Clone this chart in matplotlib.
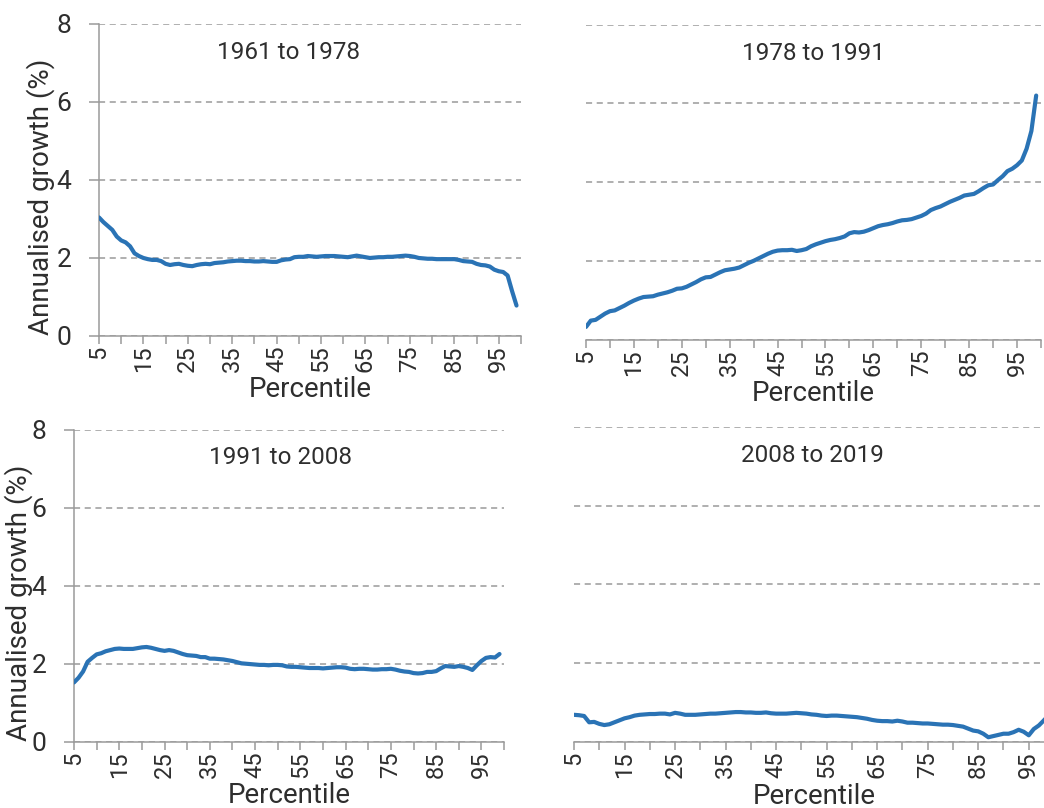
import numpy as np
import matplotlib
matplotlib.use("Agg")
import matplotlib.pyplot as plt
from matplotlib import font_manager

names = {f.name for f in font_manager.fontManager.ttflist}
fam = 'Liberation Sans Narrow' if 'Liberation Sans Narrow' in names else 'Roboto'
plt.rcParams['font.family'] = [fam, 'DejaVu Sans']

# %% data: annualised growth (%) by percentile 5..99
percentiles = np.arange(5, 100)

g_1961_1978 = [3.04, 2.92, 2.82, 2.72, 2.55, 2.45, 2.40, 2.30, 2.12, 2.05,
               2.00, 1.97, 1.95, 1.95, 1.92, 1.85, 1.82, 1.84, 1.85, 1.82,
               1.80, 1.79, 1.82, 1.84, 1.85, 1.84, 1.87, 1.88, 1.89, 1.91,
               1.92, 1.93, 1.93, 1.92, 1.92, 1.91, 1.91, 1.92, 1.91, 1.90,
               1.90, 1.94, 1.96, 1.97, 2.02, 2.03, 2.03, 2.05, 2.04, 2.03,
               2.04, 2.05, 2.05, 2.05, 2.04, 2.03, 2.02, 2.04, 2.06, 2.04,
               2.02, 2.00, 2.01, 2.02, 2.02, 2.03, 2.03, 2.04, 2.05, 2.06,
               2.05, 2.03, 2.00, 1.99, 1.98, 1.98, 1.97, 1.97, 1.97, 1.97,
               1.97, 1.95, 1.92, 1.91, 1.90, 1.85, 1.82, 1.81, 1.78, 1.70,
               1.66, 1.64, 1.55, 1.15, 0.78]

g_1978_1991 = [0.32, 0.48, 0.50, 0.58, 0.66, 0.72, 0.74, 0.80, 0.86, 0.93,
               0.99, 1.04, 1.08, 1.09, 1.10, 1.14, 1.17, 1.20, 1.24, 1.29,
               1.30, 1.34, 1.40, 1.46, 1.53, 1.58, 1.59, 1.65, 1.71, 1.76,
               1.78, 1.80, 1.83, 1.89, 1.95, 2.00, 2.06, 2.12, 2.18, 2.23,
               2.26, 2.27, 2.27, 2.28, 2.25, 2.27, 2.30, 2.37, 2.42, 2.46,
               2.50, 2.53, 2.55, 2.58, 2.62, 2.70, 2.73, 2.72, 2.74, 2.78,
               2.83, 2.88, 2.91, 2.93, 2.96, 3.00, 3.03, 3.04, 3.06, 3.10,
               3.14, 3.20, 3.29, 3.34, 3.38, 3.44, 3.50, 3.55, 3.60, 3.66,
               3.68, 3.70, 3.77, 3.85, 3.92, 3.94, 4.05, 4.15, 4.28, 4.34,
               4.43, 4.55, 4.85, 5.30, 6.20]

g_1991_2008 = [1.52, 1.64, 1.80, 2.05, 2.15, 2.24, 2.27, 2.32, 2.35, 2.38,
               2.39, 2.38, 2.38, 2.38, 2.40, 2.42, 2.43, 2.41, 2.38, 2.35,
               2.33, 2.35, 2.33, 2.29, 2.25, 2.22, 2.21, 2.20, 2.17, 2.17,
               2.13, 2.13, 2.12, 2.11, 2.09, 2.07, 2.04, 2.01, 2.00, 1.99,
               1.98, 1.97, 1.97, 1.96, 1.97, 1.97, 1.96, 1.93, 1.92, 1.92,
               1.91, 1.90, 1.89, 1.89, 1.89, 1.88, 1.89, 1.90, 1.91, 1.91,
               1.90, 1.87, 1.86, 1.87, 1.87, 1.86, 1.85, 1.85, 1.86, 1.86,
               1.87, 1.85, 1.82, 1.80, 1.79, 1.76, 1.75, 1.76, 1.79, 1.79,
               1.81, 1.88, 1.94, 1.93, 1.92, 1.94, 1.92, 1.89, 1.84, 1.96,
               2.07, 2.15, 2.17, 2.16, 2.25]

g_2008_2019 = [0.69, 0.68, 0.66, 0.50, 0.51, 0.46, 0.43, 0.45, 0.50, 0.55,
               0.60, 0.63, 0.67, 0.69, 0.70, 0.71, 0.71, 0.72, 0.72, 0.70,
               0.74, 0.72, 0.69, 0.69, 0.69, 0.70, 0.71, 0.72, 0.72, 0.73,
               0.74, 0.75, 0.76, 0.76, 0.75, 0.75, 0.74, 0.74, 0.75, 0.73,
               0.72, 0.72, 0.72, 0.73, 0.74, 0.73, 0.72, 0.70, 0.69, 0.67,
               0.66, 0.67, 0.67, 0.66, 0.65, 0.64, 0.63, 0.61, 0.59, 0.56,
               0.54, 0.53, 0.53, 0.52, 0.54, 0.52, 0.49, 0.49, 0.48, 0.47,
               0.47, 0.46, 0.45, 0.44, 0.44, 0.43, 0.41, 0.39, 0.34, 0.29,
               0.27, 0.21, 0.12, 0.15, 0.18, 0.21, 0.21, 0.25, 0.31, 0.26,
               0.17, 0.33, 0.42, 0.55, 0.70]

periods = ["1961 to 1978", "1978 to 1991", "1991 to 2008", "2008 to 2019"]
series = [g_1961_1978, g_1978_1991, g_1991_2008, g_2008_2019]

# %% layout (figure fractions)
boxes = [[0.0948, 0.5842, 0.4042, 0.3861],
         [0.5613, 0.5798, 0.4358, 0.3896],
         [0.0709, 0.0821, 0.4119, 0.3858],
         [0.5498, 0.0817, 0.4598, 0.3899]]
title_x = [0.448, 0.5, 0.479, 0.496]
ylab_x = [-0.138, None, -0.128, None]

line_col = '#2a73b5'
grey = '#9a9a9a'
txt = '#2e2e2e'

fig = plt.figure(figsize=(10.44, 8.08), dpi=100)
ticks = list(range(5, 101, 5))
tick_labels = [str(t) if (t - 5) % 10 == 0 else '' for t in ticks]

for i in range(4):
    ax = fig.add_axes(boxes[i])
    ax.plot(percentiles, series[i], color=line_col, lw=3.0, solid_capstyle='round', zorder=3)
    ax.set_xlim(5, 100)
    ax.set_ylim(0, 8)
    ax.set_yticks([0, 2, 4, 6, 8])
    ax.grid(axis='y', color=grey, linestyle=(0, (4, 3)), lw=1.1)
    ax.set_axisbelow(True)
    ax.set_xticks(ticks)
    ax.set_xticklabels(tick_labels, rotation=90, fontsize=17, color=txt)
    ax.tick_params(axis='x', length=6, width=1.1, color=grey, pad=1)
    for s in ['top', 'right']:
        ax.spines[s].set_visible(False)
    ax.spines['bottom'].set_color(grey)
    ax.spines['bottom'].set_linewidth(1.1)
    if ylab_x[i] is not None:
        ax.spines['left'].set_color(grey)
        ax.spines['left'].set_linewidth(1.1)
        ax.tick_params(axis='y', length=7, width=1.1, color=grey, pad=13,
                       labelsize=19, labelcolor=txt)
        ax.text(ylab_x[i], 0.447, "Annualised growth (%)", transform=ax.transAxes,
                rotation=90, ha='center', va='center', fontsize=20, color=txt)
    else:
        ax.spines['left'].set_visible(False)
        ax.tick_params(axis='y', length=0, labelleft=False)
    ax.text(title_x[i], 0.91, periods[i], transform=ax.transAxes,
            ha='center', va='center', fontsize=17.5, color=txt)
    ax.text(0.5, -0.172, "Percentile", transform=ax.transAxes,
            ha='center', va='center', fontsize=20, color=txt)

fig.savefig("out.png", dpi=100)
